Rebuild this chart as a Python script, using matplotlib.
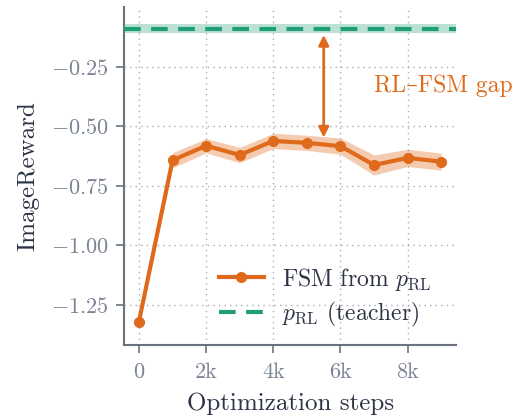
"""ImageReward of FSM distillation vs. the RL teacher."""

import matplotlib

matplotlib.use("Agg")
import matplotlib.pyplot as plt
import numpy as np

plt.rcParams["font.family"] = ["cmr10", "DejaVu Serif"]
plt.rcParams["mathtext.fontset"] = "cm"
plt.rcParams["axes.formatter.use_mathtext"] = True
plt.rcParams["axes.unicode_minus"] = True

steps = [0, 1000, 2000, 3000, 4000, 5000, 6000, 7000, 8000, 9000]
fsm_reward = [-1.32, -0.643, -0.582, -0.621, -0.562, -0.570, -0.584, -0.663, -0.633, -0.649]
fsm_err = [0.0, 0.032, 0.03, 0.032, 0.032, 0.032, 0.034, 0.042, 0.036, 0.036]
teacher_reward = -0.09
teacher_err = 0.02

ORANGE = "#e06a1c"
GREEN = "#1f9e77"
TICK_GRAY = "#7b8494"
SPINE_GRAY = "#6b7280"
TEXT_DARK = "#2d3446"

figure = plt.figure(figsize=(5.27, 4.16), dpi=100)
axis = figure.add_axes([0.235, 0.171, 0.631, 0.812])

x = np.array(steps) / 1000.0
y = np.array(fsm_reward)
err = np.array(fsm_err)

axis.set_xlim(-0.45, 9.45)
axis.set_ylim(-1.418, 0.0)

axis.axhspan(teacher_reward - teacher_err, teacher_reward + teacher_err,
             color=GREEN, alpha=0.3, lw=0, zorder=2)
axis.axhline(teacher_reward, color=GREEN, lw=3, dashes=(4, 2.5), zorder=3,
             label=r"$p_{\mathrm{RL}}$ (teacher)")

axis.fill_between(x, y - err, y + err, color=ORANGE, alpha=0.35, lw=0, zorder=2)
axis.plot(x, y, color=ORANGE, lw=3, marker="o", markersize=7, zorder=4,
          label=r"FSM from $p_{\mathrm{RL}}$")

axis.annotate("", xy=(5.5, -0.117), xytext=(5.5, -0.548),
              arrowprops=dict(arrowstyle="<|-|>", color=ORANGE, lw=2,
                              mutation_scale=15, shrinkA=0, shrinkB=0))
axis.text(9.05, -0.33, "RL–FSM gap", color=ORANGE, fontsize=17,
          ha="center", va="center")

axis.set_xticks([0, 2, 4, 6, 8], labels=["0", "2k", "4k", "6k", "8k"])
axis.set_yticks([-1.25, -1.0, -0.75, -0.5, -0.25])
axis.tick_params(colors=SPINE_GRAY, labelcolor=TICK_GRAY, labelsize=16,
                 length=6, width=1.2, direction="out", pad=5)
axis.tick_params(axis="x", pad=7)
for side in ["top", "right"]:
    axis.spines[side].set_visible(False)
for side in ["left", "bottom"]:
    axis.spines[side].set_color(SPINE_GRAY)
    axis.spines[side].set_linewidth(1.5)

axis.grid(True, linestyle=(0, (1, 3)), color="#a8acb4", lw=1, zorder=0)
axis.set_axisbelow(True)

axis.set_xlabel("Optimization steps", fontsize=18, color=TEXT_DARK, labelpad=7)
axis.set_ylabel("ImageReward", fontsize=18, color=TEXT_DARK, labelpad=8)

handles, labels = axis.get_legend_handles_labels()
axis.legend(handles[::-1], labels[::-1], loc="lower right",
            bbox_to_anchor=(0.99, -0.015), frameon=False, fontsize=17,
            labelcolor=TEXT_DARK, handlelength=1.9, labelspacing=0.3)

figure.savefig("out.png", dpi=100)
plt.close(figure)
